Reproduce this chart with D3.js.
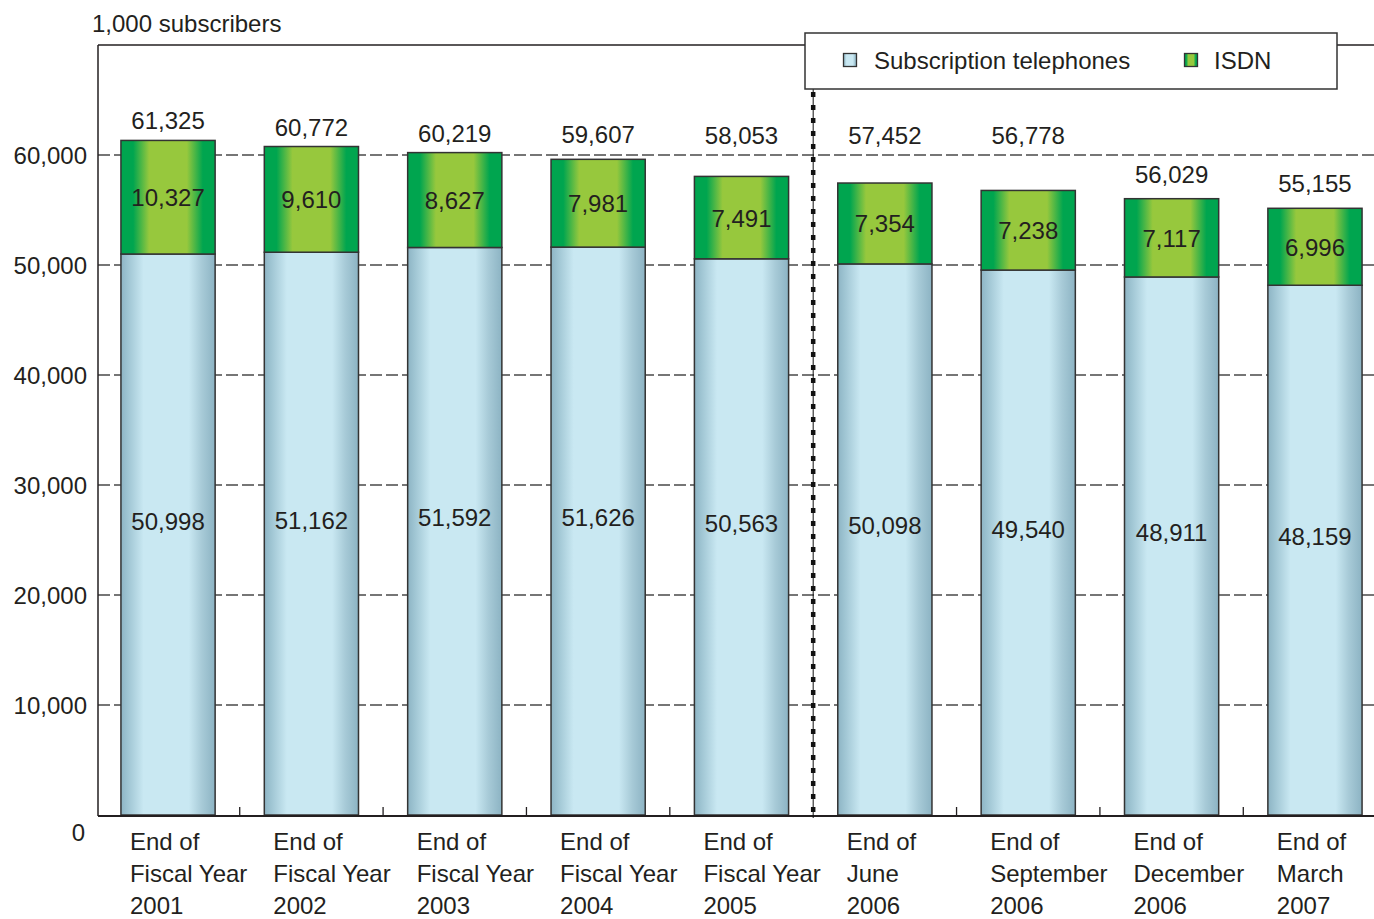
<!DOCTYPE html>
<html>
<head>
<meta charset="utf-8">
<script src="https://cdn.jsdelivr.net/npm/d3@7"></script>
<style>
  html, body { margin: 0; padding: 0; background: #fff; }
  svg { display: block; font-family: "Liberation Sans", Arial, Helvetica, sans-serif; }
</style>
</head>
<body>
<svg id="chart" width="1374" height="919"></svg>
<script>
// ---------------- data ----------------
const categories = [
  ["End of", "Fiscal Year", "2001"],
  ["End of", "Fiscal Year", "2002"],
  ["End of", "Fiscal Year", "2003"],
  ["End of", "Fiscal Year", "2004"],
  ["End of", "Fiscal Year", "2005"],
  ["End of", "June", "2006"],
  ["End of", "September", "2006"],
  ["End of", "December", "2006"],
  ["End of", "March", "2007"]
];
const subscriptionTelephones = [50998, 51162, 51592, 51626, 50563, 50098, 49540, 48911, 48159];
const isdn = [10327, 9610, 8627, 7981, 7491, 7354, 7238, 7117, 6996];
const totals = [61325, 60772, 60219, 59607, 58053, 57452, 56778, 56029, 55155];
const yTicks = [10000, 20000, 30000, 40000, 50000, 60000];
const seriesNames = ["Subscription telephones", "ISDN"];
const unitLabel = "1,000 subscribers";

// ---------------- layout ----------------
const plotLeft = 98, plotRight = 1374, plotTop = 45, plotBottom = 815;
const fmt = d3.format(",");

const svg = d3.select("#chart");
const defs = svg.append("defs");

function grad(id, stops) {
  const g = defs.append("linearGradient").attr("id", id)
    .attr("x1", "0%").attr("x2", "100%").attr("y1", "0%").attr("y2", "0%");
  stops.forEach(s => g.append("stop").attr("offset", s[0]).attr("stop-color", s[1]));
}
grad("blueGrad", [
  ["0%", "#8db4c4"], ["7%", "#9ec4d2"], ["24%", "#c9e8f2"], ["72%", "#c9e8f2"],
  ["86%", "#a7cad7"], ["100%", "#8cb3c3"]
]);
grad("greenGrad", [
  ["0%", "#00a54f"], ["13%", "#00a54f"], ["30%", "#97c83d"], ["70%", "#97c83d"],
  ["87%", "#00a54f"], ["100%", "#00a54f"]
]);

const x = d3.scaleBand()
  .domain(d3.range(categories.length))
  .range([plotLeft, 1385])
  .paddingInner(0.343)
  .paddingOuter(0.16);

const y = d3.scaleLinear().domain([0, 70000]).range([plotBottom, plotTop]);

const ink = "#231f20";

// gridlines
svg.append("g").selectAll("line").data(yTicks).join("line")
  .attr("x1", plotLeft).attr("x2", plotRight)
  .attr("y1", d => y(d)).attr("y2", d => y(d))
  .attr("stroke", "#4a4a4a").attr("stroke-width", 1.3)
  .attr("stroke-dasharray", "12,4");

// frame: top line, left axis
svg.append("line").attr("x1", plotLeft).attr("x2", plotRight).attr("y1", y(70000)).attr("y2", y(70000))
  .attr("stroke", ink).attr("stroke-width", 1.5);
svg.append("line").attr("x1", plotLeft).attr("x2", plotLeft).attr("y1", y(70000)).attr("y2", plotBottom + 1)
  .attr("stroke", ink).attr("stroke-width", 1.5);

// bars
const bars = svg.append("g");
categories.forEach((c, i) => {
  const bx = x(i), bw = x.bandwidth();
  const yb = y(subscriptionTelephones[i]);
  const yt = y(subscriptionTelephones[i] + isdn[i]);
  bars.append("rect").attr("x", bx).attr("y", yb).attr("width", bw).attr("height", y(0) - yb)
    .attr("fill", "url(#blueGrad)").attr("stroke", "#333").attr("stroke-width", 1.5);
  bars.append("rect").attr("x", bx).attr("y", yt).attr("width", bw).attr("height", yb - yt)
    .attr("fill", "url(#greenGrad)").attr("stroke", "#333").attr("stroke-width", 1.5);
});

// bottom axis
svg.append("line").attr("x1", plotLeft).attr("x2", plotRight).attr("y1", plotBottom + 1).attr("y2", plotBottom + 1)
  .attr("stroke", ink).attr("stroke-width", 2);

// x tick marks between bars (except at the dotted separator)
const sepIndex = 5;
const tickXs = d3.range(1, categories.length)
  .filter(i => i !== sepIndex)
  .map(i => (x(i - 1) + x.bandwidth() + x(i)) / 2);
svg.append("g").selectAll("line").data(tickXs).join("line")
  .attr("x1", d => d).attr("x2", d => d)
  .attr("y1", plotBottom + 1).attr("y2", plotBottom - 8)
  .attr("stroke", ink).attr("stroke-width", 1.3);

// y labels
const yl = svg.append("g").attr("font-size", 24).attr("fill", ink).attr("text-anchor", "end");
yTicks.forEach(t => {
  yl.append("text").attr("x", 87).attr("y", y(t) + 8.5).text(fmt(t));
});
yl.append("text").attr("x", 85).attr("y", y(0) + 26).text("0");

// unit label
svg.append("text").attr("x", 92).attr("y", 32).attr("font-size", 24).attr("fill", ink).text(unitLabel);

// category labels
const cl = svg.append("g").attr("font-size", 24).attr("fill", ink);
categories.forEach((lines, i) => {
  const base = 850;
  const t = cl.append("text").attr("x", x(i) + 9).attr("y", base);
  lines.forEach((ln, k) => {
    t.append("tspan").attr("x", x(i) + 9).attr("y", base + k * 32).text(ln);
  });
});

// value labels
const vl = svg.append("g").attr("font-size", 24).attr("fill", ink).attr("text-anchor", "middle");
const gl = y(60000);
categories.forEach((c, i) => {
  const cx = x(i) + x.bandwidth() / 2;
  const yb = y(subscriptionTelephones[i]);
  const yt = y(subscriptionTelephones[i] + isdn[i]);
  vl.append("text").attr("x", cx).attr("y", (yb + yt) / 2 + 9).text(fmt(isdn[i]));
  vl.append("text").attr("x", cx).attr("y", (yb + y(0)) / 2 - 14 + 9).text(fmt(subscriptionTelephones[i]));
  // totals: above the bar, kept clear of the 60,000 gridline
  let ly = yt < gl ? yt - 20 : yt - 25;
  if (ly + 13 > gl - 4 && ly - 13 < gl) ly = gl - 20;
  vl.append("text").attr("x", cx).attr("y", ly + 9).text(fmt(totals[i]));
});

// dotted separator
const sx = (x(sepIndex - 1) + x.bandwidth() + x(sepIndex)) / 2;
svg.append("line").attr("x1", sx).attr("x2", sx).attr("y1", 89).attr("y2", plotBottom + 3)
  .attr("stroke", "#111").attr("stroke-width", 1);
svg.append("line").attr("x1", sx).attr("x2", sx).attr("y1", 92).attr("y2", plotBottom + 1)
  .attr("stroke", "#111").attr("stroke-width", 4.5)
  .attr("stroke-dasharray", "5,8");

// legend
const lg = svg.append("g");
lg.append("rect").attr("x", 805).attr("y", 33).attr("width", 532).attr("height", 56)
  .attr("fill", "#fff").attr("stroke", "#333").attr("stroke-width", 1.5);
lg.append("rect").attr("x", 843.5).attr("y", 53.5).attr("width", 13).attr("height", 13)
  .attr("fill", "url(#blueGrad)").attr("stroke", "#333").attr("stroke-width", 1.3);
lg.append("text").attr("x", 874).attr("y", 69).attr("font-size", 24).attr("fill", ink).text(seriesNames[0]);
lg.append("rect").attr("x", 1184.5).attr("y", 53.5).attr("width", 13).attr("height", 13)
  .attr("fill", "url(#greenGrad)").attr("stroke", "#333").attr("stroke-width", 1.3);
lg.append("text").attr("x", 1214).attr("y", 69).attr("font-size", 24).attr("fill", ink).text(seriesNames[1]);
</script>
</body>
</html>
